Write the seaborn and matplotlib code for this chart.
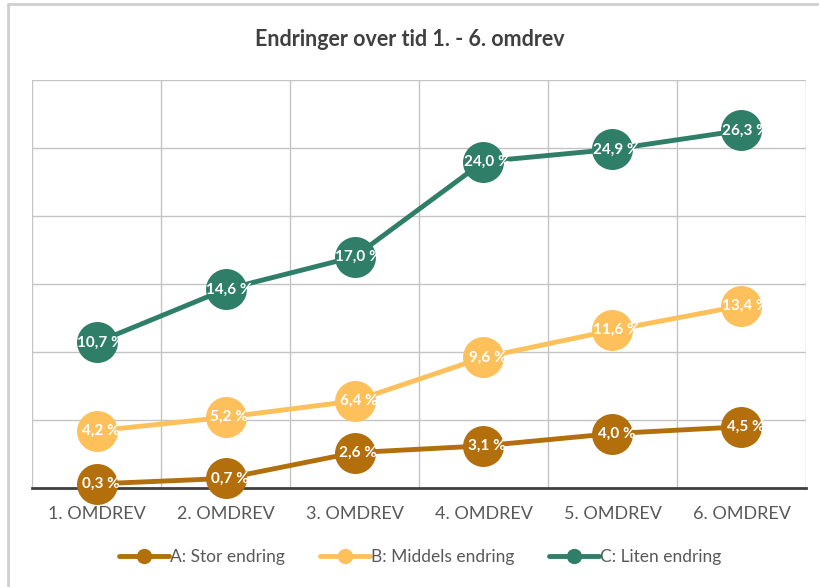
import pandas as pd
import seaborn as sns
import matplotlib.pyplot as plt
from matplotlib.lines import Line2D

# values (percent)
rounds = ['1. OMDREV', '2. OMDREV', '3. OMDREV', '4. OMDREV', '5. OMDREV', '6. OMDREV']
series = ['A: Stor endring', 'B: Middels endring', 'C: Liten endring']
stor = [0.3, 0.7, 2.6, 3.1, 4.0, 4.5]
middels = [4.2, 5.2, 6.4, 9.6, 11.6, 13.4]
liten = [10.7, 14.6, 17.0, 24.0, 24.9, 26.3]
colors = ['#B26F0B', '#FDC05A', '#2F7E67']

df = pd.DataFrame({
    'pos': list(range(len(rounds))) * 3,
    'value': stor + middels + liten,
    'serie': [s for s in series for _ in rounds],
})

sns.set_style('white')
plt.rcParams['font.family'] = ['Lato', 'DejaVu Sans']

fig = plt.figure(figsize=(8.19, 5.87), dpi=100)
ax = fig.add_axes([0.0391, 0.1687, 0.945, 0.695])

# grid
ax.set_xlim(-0.5, len(rounds) - 0.5)
ax.set_ylim(0, 30)
ax.set_yticks(range(0, 31, 5))
ax.set_xticks([i - 0.5 for i in range(len(rounds) + 1)], minor=True)
ax.grid(axis='y', color='#c4c4c4', lw=1)
ax.grid(axis='x', which='minor', color='#c4c4c4', lw=1)
ax.set_axisbelow(True)

sns.lineplot(data=df, x='pos', y='value', hue='serie', palette=colors,
             marker='o', markersize=29.5, markeredgewidth=0, linewidth=3.5,
             legend=False, ax=ax, zorder=3, clip_on=False)

for vals in (stor, middels, liten):
    for i, v in enumerate(vals):
        ax.text(i + 0.03, v, f'{v:.1f} %'.replace('.', ','), color='white',
                fontsize=11, fontweight='bold', ha='center', va='center', zorder=5)

ax.set_xticks(range(len(rounds)))
ax.set_xticklabels(rounds, color='#595959', fontsize=13)
ax.tick_params(axis='x', length=0, pad=13)
ax.set_yticklabels([])
ax.tick_params(axis='y', length=0)
ax.set_xlabel('')
ax.set_ylabel('')
for side in ['top', 'right', 'left']:
    ax.spines[side].set_visible(False)
ax.spines['bottom'].set_color('#404040')
ax.spines['bottom'].set_linewidth(2)
ax.spines['bottom'].set_zorder(2.5)

handles = [Line2D([0], [0], color=c, lw=3.5, marker='o', markersize=10) for c in colors]
fig.legend(handles, series, loc='center', bbox_to_anchor=(0.513, 0.051), ncol=3,
           frameon=False, fontsize=12.5, labelcolor='#595959', handlelength=2.9,
           handletextpad=0.05, columnspacing=2.0)

fig.text(0.5, 0.932, 'Endringer over tid 1. - 6. omdrev', ha='center', va='center',
         fontsize=15.5, fontweight='bold', color='#404040')

# outer frame (top and left edges visible in the reference)
fig.add_artist(Line2D([0.01, 1], [0.993, 0.993], color='#cfcfcf', lw=2, transform=fig.transFigure))
fig.add_artist(Line2D([0.01, 0.01], [0, 0.993], color='#cfcfcf', lw=2, transform=fig.transFigure))

plt.savefig('out.png', dpi=100)
